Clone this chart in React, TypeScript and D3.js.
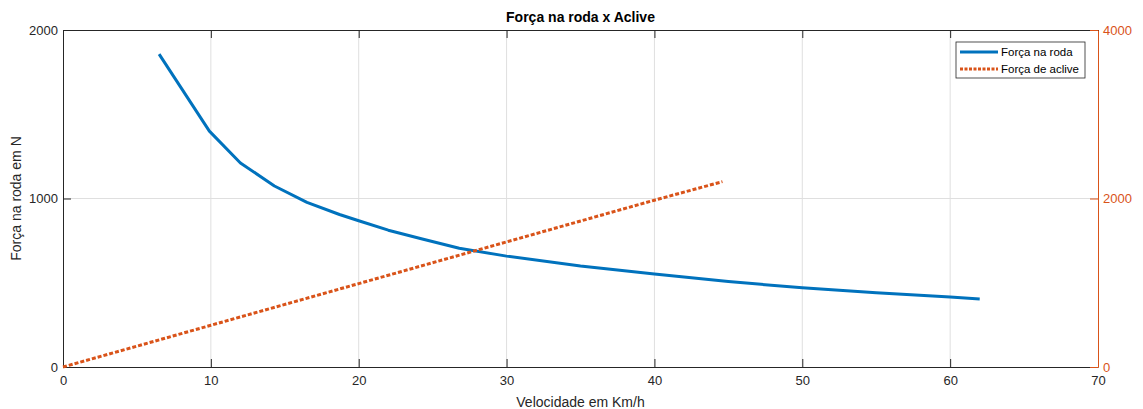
import React, { useRef, useEffect } from 'react';
import * as d3 from 'd3';

// Força na roda (left axis)
const rodaSpeed = [6.5, 9.9, 12, 14.3, 16.5, 18.7, 20, 22, 24.3, 26.8, 30, 35, 40, 45, 50, 55, 60, 62];
const rodaForce = [1857, 1400, 1211, 1074, 977, 905, 868, 812, 760, 705, 658, 600, 552, 507, 470, 441, 415, 403];

// Força de aclive (right axis)
const acliveSpeed = [0, 10, 20, 30, 40, 44.6];
const acliveForce = [0, 495, 990, 1485, 1980, 2200];

const xTicks = [0, 10, 20, 30, 40, 50, 60, 70];
const leftTicks = [0, 1000, 2000];
const rightTicks = [0, 2000, 4000];

const FONT = "Arial, 'Liberation Sans', Helvetica, sans-serif";
const BLUE = '#0072BD';
const ORANGE = '#D95319';
const AXIS = '#262626';

const Chart = () => {
  const ref = useRef(null);

  useEffect(() => {
    if (!ref.current) return;
    const svg = d3.select(ref.current);
    svg.selectAll('*').remove();

    const margin = { top: 30, right: 45, bottom: 42, left: 63 };
    const width = 1143 - margin.left - margin.right;
    const height = 409 - margin.top - margin.bottom;

    const x = d3.scaleLinear().domain([0, 70]).range([0, width]);
    const yL = d3.scaleLinear().domain([0, 2000]).range([height, 0]);
    const yR = d3.scaleLinear().domain([0, 4000]).range([height, 0]);

    const g = svg.append('g').attr('transform', `translate(${margin.left}, ${margin.top})`);

    // grid
    g.append('g')
      .selectAll('line')
      .data(xTicks.slice(1, -1))
      .enter()
      .append('line')
      .attr('x1', (d) => x(d))
      .attr('x2', (d) => x(d))
      .attr('y1', 0)
      .attr('y2', height)
      .attr('stroke', '#dfdfdf');
    g.append('g')
      .selectAll('line')
      .data(leftTicks.slice(1, -1))
      .enter()
      .append('line')
      .attr('x1', 0)
      .attr('x2', width)
      .attr('y1', (d) => yL(d))
      .attr('y2', (d) => yL(d))
      .attr('stroke', '#dfdfdf');

    // axes (ticks pointing inward, like matlab)
    const fmt = (d) => String(d);
    const xAxis = g.append('g').attr('transform', `translate(0, ${height})`)
      .call(d3.axisBottom(x).tickValues(xTicks).tickSizeInner(-8).tickSizeOuter(0).tickPadding(14).tickFormat(fmt));
    const xTop = g.append('g')
      .call(d3.axisTop(x).tickValues(xTicks).tickSizeInner(-8).tickSizeOuter(0).tickFormat(() => ''));
    const yAxis = g.append('g')
      .call(d3.axisLeft(yL).tickValues(leftTicks).tickSizeInner(-8).tickSizeOuter(0).tickPadding(5).tickFormat(fmt));
    const yAxisR = g.append('g').attr('transform', `translate(${width}, 0)`)
      .call(d3.axisRight(yR).tickValues(rightTicks).tickSizeInner(-8).tickSizeOuter(0).tickPadding(5).tickFormat(fmt));

    [xAxis, xTop, yAxis].forEach((a) => {
      a.selectAll('path').attr('stroke', AXIS);
      a.selectAll('line').attr('stroke', AXIS);
      a.selectAll('text').attr('fill', AXIS).style('font-family', FONT).style('font-size', '13px');
    });
    yAxisR.selectAll('path').attr('stroke', ORANGE);
    yAxisR.selectAll('line').attr('stroke', ORANGE);
    yAxisR.selectAll('text').attr('fill', ORANGE).style('font-family', FONT).style('font-size', '13px');
    xAxis.selectAll('text').attr('dy', '0.3em');

    // lines
    const rodaLine = d3.line().x((d) => x(d[0])).y((d) => yL(d[1]));
    const acliveLine = d3.line().x((d) => x(d[0])).y((d) => yR(d[1]));

    g.append('path')
      .datum(rodaSpeed.map((v, i) => [v, rodaForce[i]]))
      .attr('d', rodaLine)
      .attr('fill', 'none')
      .attr('stroke', BLUE)
      .attr('stroke-width', 3)
      .attr('stroke-linejoin', 'round');

    g.append('path')
      .datum(acliveSpeed.map((v, i) => [v, acliveForce[i]]))
      .attr('d', acliveLine)
      .attr('fill', 'none')
      .attr('stroke', ORANGE)
      .attr('stroke-width', 3)
      .attr('stroke-dasharray', '4,2');

    // title and labels
    svg.append('text')
      .attr('x', margin.left + width / 2)
      .attr('y', 22)
      .attr('text-anchor', 'middle')
      .style('font-family', FONT)
      .style('font-size', '14px')
      .style('font-weight', 'bold')
      .attr('fill', '#000')
      .text('Força na roda x Aclive');

    svg.append('text')
      .attr('x', margin.left + width / 2)
      .attr('y', 407)
      .attr('text-anchor', 'middle')
      .style('font-family', FONT)
      .style('font-size', '14px')
      .attr('fill', AXIS)
      .text('Velocidade em Km/h');

    svg.append('text')
      .attr('transform', `translate(21, ${margin.top + height / 2}) rotate(-90)`)
      .attr('text-anchor', 'middle')
      .style('font-family', FONT)
      .style('font-size', '14px')
      .attr('fill', AXIS)
      .text('Força na roda em N');

    // legend
    const legend = g.append('g').attr('transform', `translate(${width - 142}, 12)`);
    legend.append('rect')
      .attr('width', 129)
      .attr('height', 36)
      .attr('fill', '#fff')
      .attr('stroke', '#262626')
      .attr('stroke-width', 0.8);
    const items = [
      { label: 'Força na roda', color: BLUE, dash: null },
      { label: 'Força de aclive', color: ORANGE, dash: '3,1.5' }
    ];
    items.forEach((it, i) => {
      const yy = 10 + i * 17;
      legend.append('line')
        .attr('x1', 4)
        .attr('x2', 42)
        .attr('y1', yy)
        .attr('y2', yy)
        .attr('stroke', it.color)
        .attr('stroke-width', 3)
        .attr('stroke-dasharray', it.dash);
      legend.append('text')
        .attr('x', 45)
        .attr('y', yy)
        .attr('dy', '0.35em')
        .style('font-family', FONT)
        .style('font-size', '11.5px')
        .attr('fill', '#000')
        .text(it.label);
    });
  }, []);

  return <svg ref={ref} width={1143} height={409} style={{ position: 'absolute', left: 0, top: 0, background: '#fff' }} />;
};

export default function App() {
  return <Chart />;
}
